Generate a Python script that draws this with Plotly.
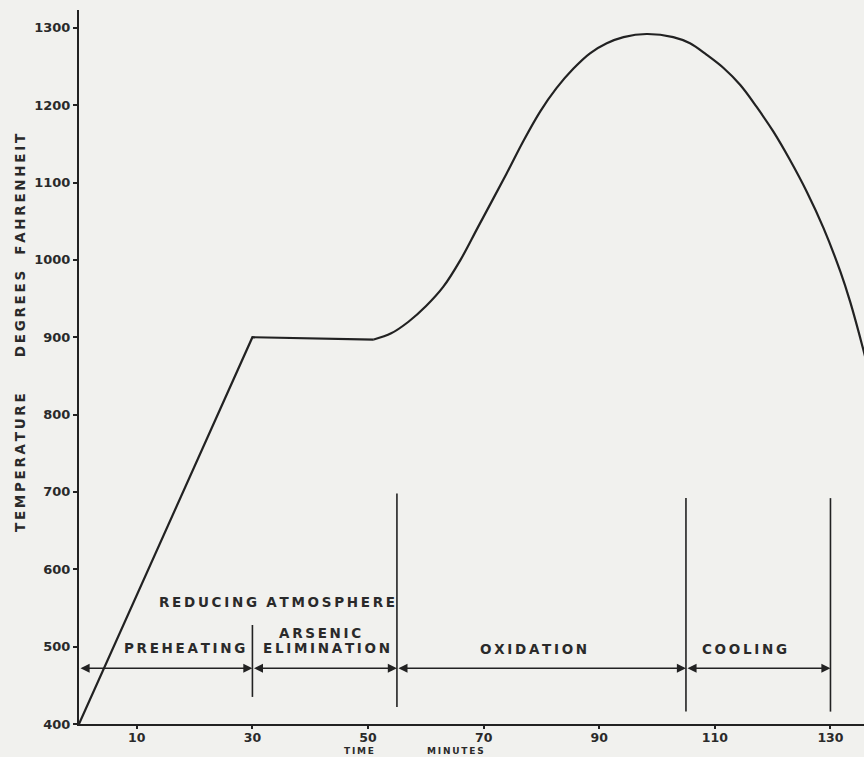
import plotly.graph_objects as go

# ---- data ----
ramp_t = [0, 30, 51]
ramp_T = [400, 900, 897]

curve_t = [51, 54, 57, 60, 63, 66, 69, 74.0, 76.9, 79.8, 82.6, 85.5, 88.4, 91.3, 94.2, 98.2,
           102.8, 105.7, 108.6, 111.5, 114.4, 117.2, 120.1, 123.0, 125.9, 128.8, 131.7,
           133.4, 135.4, 137.0]
curve_T = [897, 905, 920, 940, 965, 1000, 1042, 1112, 1154, 1192, 1222, 1247, 1267, 1280, 1288, 1292,
           1288, 1280, 1265, 1248, 1226, 1198, 1166, 1129, 1088, 1041, 985,
           946, 892, 845]

# phase boundaries (vertical lines): x, bottom, top
div_x = [30, 55, 105, 130]
div_bottom = [435, 422, 416, 416]
div_top = [528, 698, 692, 692]

# double-headed arrows along the phase band
arrow_level = 472
arrow_segments = [(0, 30), (30, 55), (55, 105), (105, 130)]

# phase labels
phase_labels = ["PREHEATING", "ARSENIC", "ELIMINATION", "OXIDATION", "COOLING", "REDUCING ATMOSPHERE"]
phase_x = [18.3, 41.7, 42.9, 78.7, 115.2, 34.3]
phase_y = [498, 518, 498, 497, 497, 558]

x_ticks = [10, 30, 50, 70, 90, 110, 130]
y_ticks = [400, 500, 600, 700, 800, 900, 1000, 1100, 1200, 1300]

y_title_words = ["TEMPERATURE", "DEGREES", "FAHRENHEIT"]
y_title_pos = [737.6, 930, 1085.6]
x_title_words = ["TIME", "MINUTES"]
x_title_pos = [48.4, 65.1]

INK = "#222222"
TXT = "#2a2a2a"
PAPER = "#f1f1ee"
FONT = "DejaVu Sans"
THIN = "\u2009"


def spaced(s):
    return "  ".join(THIN.join(w) for w in s.split(" "))


fig = go.Figure()

fig.add_trace(go.Scatter(x=ramp_t, y=ramp_T, mode="lines",
                         line=dict(color=INK, width=2.2), hoverinfo="skip"))
fig.add_trace(go.Scatter(x=curve_t, y=curve_T, mode="lines",
                         line=dict(color=INK, width=2.2, shape="spline", smoothing=1.0),
                         hoverinfo="skip"))

vx, vy = [], []
for x, b, t in zip(div_x, div_bottom, div_top):
    vx += [x, x, None]
    vy += [b, t, None]
fig.add_trace(go.Scatter(x=vx, y=vy, mode="lines",
                         line=dict(color=INK, width=1.6), hoverinfo="skip"))

for a, b in arrow_segments:
    fig.add_annotation(x=b, y=arrow_level, ax=a, ay=arrow_level,
                       xref="x", yref="y", axref="x", ayref="y",
                       text="", showarrow=True, arrowside="end+start",
                       arrowhead=2, startarrowhead=2, arrowsize=1.3,
                       startarrowsize=1.3, arrowwidth=1.4, arrowcolor=INK,
                       standoff=0, startstandoff=0)

for lab, x, y in zip(phase_labels, phase_x, phase_y):
    fig.add_annotation(x=x, y=y, xref="x", yref="y", text=spaced(lab),
                       showarrow=False,
                       font=dict(family=FONT, size=13.5, color=TXT, weight="bold"))

for w, y in zip(y_title_words, y_title_pos):
    fig.add_annotation(x=-0.075, y=y, xref="paper", yref="y", text=spaced(w),
                       textangle=-90, showarrow=False, xanchor="center", yanchor="middle",
                       font=dict(family=FONT, size=13.5, color=TXT, weight="bold"))

for w, x in zip(x_title_words, x_title_pos):
    fig.add_annotation(x=x, y=-0.0462, xref="x", yref="paper", text=spaced(w),
                       showarrow=False, yanchor="bottom", borderpad=0,
                       font=dict(family=FONT, size=9, color=TXT, weight="bold"))

fig.update_layout(
    width=864, height=757,
    margin=dict(l=79, r=0, t=10, b=33),
    paper_bgcolor=PAPER, plot_bgcolor=PAPER,
    showlegend=False,
    xaxis=dict(range=[0, 135.8], tickvals=x_ticks,
               ticktext=[str(v) for v in x_ticks],
               showline=True, linecolor=INK, linewidth=2,
               ticks="outside", ticklen=3, tickcolor=INK, tickwidth=1.5,
               ticklabelstandoff=-2,
               showgrid=False, zeroline=False,
               tickfont=dict(family=FONT, size=12.5, color=TXT, weight="bold")),
    yaxis=dict(range=[400, 1323], tickvals=y_ticks,
               ticktext=[str(v) for v in y_ticks],
               showline=True, linecolor=INK, linewidth=2,
               ticks="outside", ticklen=4, tickcolor=INK, tickwidth=1.5,
               showgrid=False, zeroline=False,
               tickfont=dict(family=FONT, size=13, color=TXT, weight="bold")),
)

fig.write_html("out.html", config={"displayModeBar": False},
               post_script="document.body.style.margin='0';document.body.style.background='#f1f1ee';")
